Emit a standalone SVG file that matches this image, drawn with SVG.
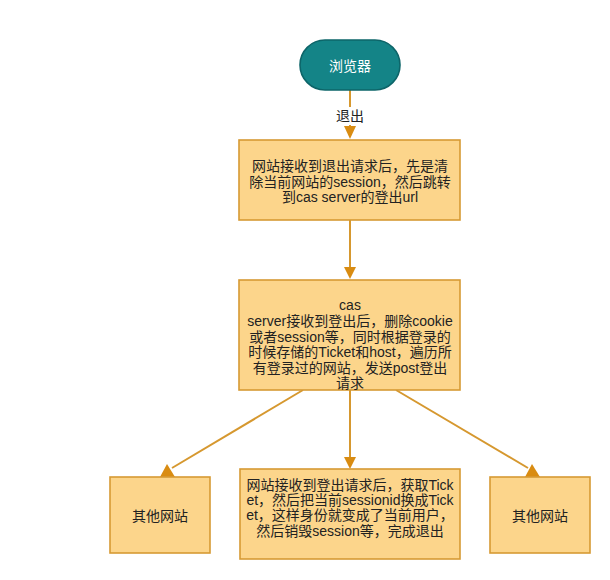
<svg xmlns="http://www.w3.org/2000/svg" width="610" height="580" viewBox="0 0 610 580">
<style>
.box{fill:#fcd58b;stroke:#d69a34;stroke-width:1.6}
.term{fill:#148487;stroke:#0d6569;stroke-width:1.6}
.t{font-family:"Liberation Sans","Noto Sans CJK SC",sans-serif;font-size:14px;fill:#222;text-anchor:middle}
.w{fill:#ffffff}
.edge{stroke:#d6982f;stroke-width:2;fill:none}
.head{fill:#d98c12;stroke:none}
</style>
<rect width="610" height="580" fill="#ffffff"/>
<g id="connectors">
<line class="edge" x1="350" y1="90" x2="350" y2="127"/>
<rect x="332" y="107" width="36" height="18" fill="#ffffff"/>
<text class="t" x="350" y="121">退出</text>
<polygon class="head" points="350,139 344,126 356,126"/>
<line class="edge" x1="350" y1="220" x2="350" y2="268"/>
<polygon class="head" points="350,279 344,267 356,267"/>
<line class="edge" x1="350" y1="390" x2="350" y2="458"/>
<polygon class="head" points="350,469 344,457 356,457"/>
<line class="edge" x1="303" y1="390" x2="172" y2="468"/>
<polygon class="head" points="167,464 160,477 175,477"/>
<line class="edge" x1="396" y1="390" x2="528" y2="468"/>
<polygon class="head" points="532,464 525,477 540,477"/>
</g>
<g id="browser">
<rect class="term" x="300" y="40" width="100" height="50" rx="25" ry="25"/>
<text class="t w" x="350" y="71">浏览器</text>
</g>
<g id="step1">
<rect class="box" x="239" y="140" width="221" height="80"/>
<text class="t" x="350" y="171">网站接收到退出请求后，先是清</text>
<text class="t" x="350" y="187">除当前网站的session，然后跳转</text>
<text class="t" x="350" y="202">到cas server的登出url</text>
</g>
<g id="step2">
<rect class="box" x="239" y="280" width="221" height="110"/>
<text class="t" x="350" y="310">cas</text>
<text class="t" x="350" y="326">server接收到登出后，删除cookie</text>
<text class="t" x="350" y="342">或者session等，同时根据登录的</text>
<text class="t" x="350" y="357">时候存储的Ticket和host，遍历所</text>
<text class="t" x="350" y="373">有登录过的网站，发送post登出</text>
<text class="t" x="350" y="388">请求</text>
</g>
<g id="site-left">
<rect class="box" x="110" y="477" width="100" height="76"/>
<text class="t" x="160" y="521">其他网站</text>
</g>
<g id="site-center">
<rect class="box" x="240" y="469" width="220" height="90"/>
<text class="t" x="350" y="490">网站接收到登出请求后，获取Tick</text>
<text class="t" x="350" y="505">et，然后把当前sessionid换成Tick</text>
<text class="t" x="350" y="520">et，这样身份就变成了当前用户，</text>
<text class="t" x="350" y="536">然后销毁session等，完成退出</text>
</g>
<g id="site-right">
<rect class="box" x="490" y="477" width="100" height="76"/>
<text class="t" x="540" y="521">其他网站</text>
</g>
</svg>
